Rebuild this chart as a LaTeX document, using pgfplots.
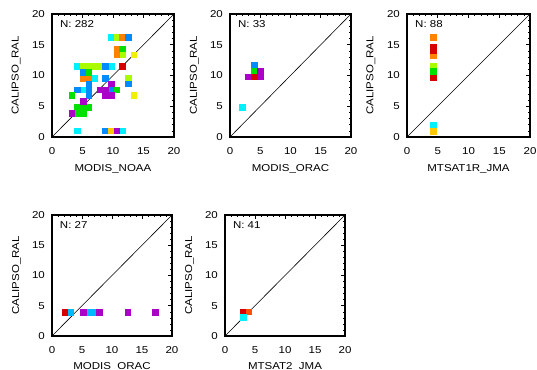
\documentclass[border=0pt]{standalone}
\usepackage{fontspec}
\setmainfont{Liberation Sans}[FakeStretch=1.15]
\usepackage{pgfplots}
\pgfplotsset{compat=1.18}
\definecolor{ccyan}{RGB}{0,240,255}
\definecolor{cblue}{RGB}{0,140,255}
\definecolor{csky}{RGB}{0,185,255}
\definecolor{cygreen}{RGB}{170,250,0}
\definecolor{cgreen}{RGB}{0,225,0}
\definecolor{corange}{RGB}{255,130,0}
\definecolor{cored}{RGB}{255,80,0}
\definecolor{cred}{RGB}{215,0,0}
\definecolor{cpurple}{RGB}{170,0,200}
\definecolor{cyellow}{RGB}{240,240,0}
\definecolor{cgold}{RGB}{255,200,0}
\newcommand{\fs}{\fontsize{10bp}{12bp}\selectfont}
\pgfplotsset{
  panel/.style={
    scale only axis,
    xmin=0, xmax=20, ymin=0, ymax=20,
    xtick={0,5,10,15,20}, ytick={0,5,10,15,20},
    minor tick num=4,
    tick pos=right, ticklabel pos=left,
    tick align=inside,
    major tick length=4bp, minor tick length=2bp,
    tick style={black, line width=0.6bp},
    axis line style={black, line width=1.1bp},
    /pgf/number format/assume math mode=true,
    tick label style={font=\fs},
    xticklabel style={inner sep=0pt, anchor=north, yshift=-10bp},
    yticklabel style={inner sep=0pt, anchor=east, xshift=-7bp},
    every axis x label/.style={at={(axis description cs:0.5,-0.22)}, anchor=north, inner sep=0pt, font=\fs},
    every axis y label/.style={at={(axis description cs:-0.255,0.5)}, rotate=90, anchor=south, inner sep=0pt, font=\fs},
    clip=false,
  },
  cell/.style={color=#1, only marks, mark=square*, mark size=2.8bp, mark options={solid, fill=#1, draw=#1, line width=0.1bp}},
  diag/.style={black, line width=0.6bp, no marks},
}
\begin{document}
\begin{tikzpicture}
\useasboundingbox (0bp,0bp) rectangle (537bp,370bp);
% ---------- Panel 1
\begin{axis}[panel, at={(52bp,233bp)}, anchor=south west, width=122bp, height=123bp,
  xlabel={MODIS\_NOAA}, ylabel={CALIPSO\_RAL}]
\addplot[cell=ccyan] coordinates {(9.66,16.28) (4.14,11.53) (9.66,11.53) (6.90,9.63) (5.06,7.73) (4.14,1.08) (11.50,1.08)};
\addplot[cell=cygreen] coordinates {(10.58,16.28) (5.06,11.53) (5.98,11.53) (6.90,11.53) (7.82,11.53) (11.50,13.43) (12.42,9.63)};
\addplot[cell=corange] coordinates {(11.50,16.28) (10.58,14.38) (10.58,13.43) (5.06,9.63) (5.98,9.63)};
\addplot[cell=cblue] coordinates {(12.42,16.28) (8.74,11.53) (5.06,10.58) (8.74,9.63) (5.98,8.68) (12.42,8.68) (4.14,7.73) (5.98,7.73) (9.66,7.73) (5.98,6.78) (8.74,1.08)};
\addplot[cell=cgreen] coordinates {(11.50,14.38) (5.98,10.58) (10.58,7.73) (3.22,6.78) (4.14,4.88) (5.06,4.88) (5.98,4.88) (4.14,3.93) (5.06,3.93)};
\addplot[cell=cyellow] coordinates {(13.34,13.43) (13.34,6.78)};
\addplot[cell=cgold] coordinates {(9.66,1.08)};
\addplot[cell=cred] coordinates {(11.50,11.53)};
\addplot[cell=cpurple] coordinates {(9.66,8.68) (7.82,7.73) (8.74,7.73) (8.74,6.78) (9.66,6.78) (5.06,5.83) (3.22,3.93) (10.58,1.08)};
\addplot[diag] coordinates {(0,0) (20,20)};
\node[anchor=north west, inner sep=0pt, font=\fs] at (rel axis cs:0.065,0.945) {N: 282};
\end{axis}
% ---------- Panel 2
\begin{axis}[panel, at={(230bp,233bp)}, anchor=south west, width=121bp, height=123bp,
  xlabel={MODIS\_ORAC}, ylabel={CALIPSO\_RAL}]
\addplot[cell=cblue] coordinates {(4.0,11.7)};
\addplot[cell=cgreen] coordinates {(4.0,10.8)};
\addplot[cell=cpurple] coordinates {(3.0,9.85) (4.95,9.85) (4.95,10.8)};
\addplot[cell=cred] coordinates {(4.0,9.85)};
\addplot[cell=ccyan] coordinates {(1.95,4.9)};
\addplot[diag] coordinates {(0,0) (20,20)};
\node[anchor=north west, inner sep=0pt, font=\fs] at (rel axis cs:0.065,0.945) {N: 33};
\end{axis}
% ---------- Panel 3
\begin{axis}[panel, at={(407bp,233bp)}, anchor=south west, width=123bp, height=123bp,
  xlabel={MTSAT1R\_JMA}, ylabel={CALIPSO\_RAL}]
\addplot[cell=corange] coordinates {(4.2,16.25) (4.2,13.35)};
\addplot[cell=cred] coordinates {(4.2,14.05) (4.2,14.6) (4.2,9.65)};
\addplot[cell=cygreen] coordinates {(4.2,11.55)};
\addplot[cell=cgreen] coordinates {(4.2,10.7)};
\addplot[cell=ccyan] coordinates {(4.2,1.9)};
\addplot[cell=cgold] coordinates {(4.2,0.95)};
\addplot[diag] coordinates {(0,0) (20,20)};
\node[anchor=north west, inner sep=0pt, font=\fs] at (rel axis cs:0.065,0.945) {N: 88};
\end{axis}
% ---------- Panel 4
\begin{axis}[panel, at={(52bp,34bp)}, anchor=south west, width=120bp, height=121bp,
  xlabel={MODIS\_ORAC}, ylabel={CALIPSO\_RAL}]
\addplot[cell=cred] coordinates {(2.2,3.95)};
\addplot[cell=csky] coordinates {(3.1,3.95) (6.0,3.95) (6.9,3.95)};
\addplot[cell=cpurple] coordinates {(5.15,3.95) (7.85,3.95) (12.6,3.95) (17.2,3.95)};
\addplot[diag] coordinates {(0,0) (20,20)};
\node[anchor=north west, inner sep=0pt, font=\fs] at (rel axis cs:0.065,0.945) {N: 27};
\end{axis}
% ---------- Panel 5
\begin{axis}[panel, at={(225bp,34bp)}, anchor=south west, width=120bp, height=121bp,
  xlabel={MTSAT2\_JMA}, ylabel={CALIPSO\_RAL}]
\addplot[cell=cred] coordinates {(3.0,4.05)};
\addplot[cell=cored] coordinates {(3.95,4.05)};
\addplot[cell=ccyan] coordinates {(3.0,3.1)};
\addplot[diag] coordinates {(0,0) (20,20)};
\node[anchor=north west, inner sep=0pt, font=\fs] at (rel axis cs:0.065,0.945) {N: 41};
\end{axis}
\end{tikzpicture}
\end{document}
